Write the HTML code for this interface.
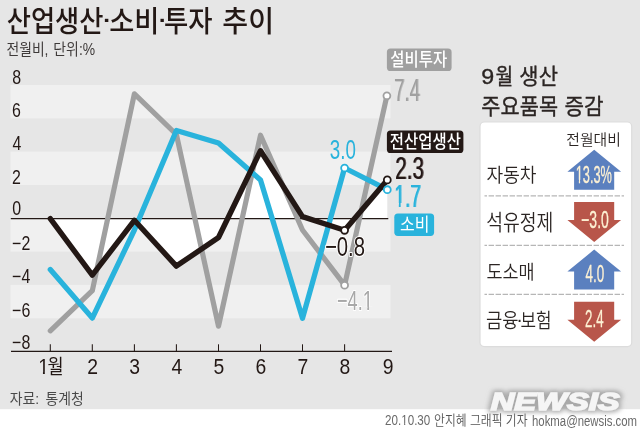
<!DOCTYPE html>
<html lang="ko"><head><meta charset="utf-8"><title>산업생산·소비·투자 추이</title>
<style>
html,body{margin:0;padding:0;background:#fff;}
svg{display:block;font-family:"Liberation Sans", "Noto Sans CJK KR", sans-serif;}
text{white-space:pre;}
</style></head><body>
<svg width="640" height="431" viewBox="0 0 640 431">
<defs><filter id="hb0" x="-5%" y="-10%" width="110%" height="120%"><feOffset dx="1.673" dy="0"/><feComponentTransfer result="o"><feFuncA type="linear" slope="0.6"/></feComponentTransfer><feMerge><feMergeNode in="o"/><feMergeNode in="SourceGraphic"/></feMerge></filter><filter id="hb1" x="-5%" y="-10%" width="110%" height="120%"><feOffset dx="1.524" dy="0"/><feComponentTransfer result="o"><feFuncA type="linear" slope="0.7"/></feComponentTransfer><feMerge><feMergeNode in="o"/><feMergeNode in="SourceGraphic"/></feMerge></filter><filter id="hb2" x="-5%" y="-10%" width="110%" height="120%"><feOffset dx="5.21" dy="0"/><feComponentTransfer result="o"><feFuncA type="linear" slope="0.8"/></feComponentTransfer><feMerge><feMergeNode in="o"/><feMergeNode in="SourceGraphic"/></feMerge></filter><clipPath id="nf0"><path d="M-50,-150H3000V80H-50ZM-2.00,-12H24.75V12H-2.00Z M34.38,-12H57.00V12H34.38Z" clip-rule="evenodd"/></clipPath><clipPath id="nf1"><path d="M-50,-150H3000V80H-50ZM137.01,-12H163.76V12H137.01Z M173.39,-12H196.01V12H173.39Z" clip-rule="evenodd"/></clipPath><clipPath id="nf2"><path d="M-50,-150H3000V80H-50ZM-2.00,-12H24.75V12H-2.00Z M34.38,-12H57.00V12H34.38Z" clip-rule="evenodd"/></clipPath><clipPath id="nf3"><path d="M-50,-150H3000V80H-50ZM139.80,-12H166.55V12H139.80Z M176.18,-12H198.80V12H176.18Z" clip-rule="evenodd"/></clipPath><clipPath id="nf4"><path d="M-50,-150H3000V80H-50ZM-2.00,-12H24.75V12H-2.00Z M34.38,-12H57.00V12H34.38Z" clip-rule="evenodd"/></clipPath></defs>
<rect x="0" y="0" width="640" height="409.2" fill="#e6e6e6"/>
<rect x="10.5" y="84.98" width="380.0" height="33.33" fill="#f0f0f0"/>
<rect x="10.5" y="151.64" width="380.0" height="33.33" fill="#f0f0f0"/>
<rect x="10.5" y="218.30" width="380.0" height="33.33" fill="#f0f0f0"/>
<rect x="10.5" y="284.96" width="380.0" height="33.33" fill="#f0f0f0"/>
<polygon points="50.3,218.6 92.3,275.2 134.4,220.3 176.4,266.1 218.5,237.5 260.5,150.7 302.5,216.6 344.6,230.3 387.3,179.9 387.3,218.60000000000002 50.3,218.60000000000002" fill="#fff" fill-rule="nonzero"/>
<line x1="10.8" y1="218.60000000000002" x2="388.3" y2="218.60000000000002" stroke="#231815" stroke-width="1.1"/>
<line x1="11" y1="351.3" x2="392" y2="351.3" stroke="#231815" stroke-width="1.15"/>
<line x1="50.3" y1="344.3" x2="50.3" y2="351.3" stroke="#231815" stroke-width="1.05"/>
<line x1="92.3" y1="344.3" x2="92.3" y2="351.3" stroke="#231815" stroke-width="1.05"/>
<line x1="134.4" y1="344.3" x2="134.4" y2="351.3" stroke="#231815" stroke-width="1.05"/>
<line x1="176.4" y1="344.3" x2="176.4" y2="351.3" stroke="#231815" stroke-width="1.05"/>
<line x1="218.5" y1="344.3" x2="218.5" y2="351.3" stroke="#231815" stroke-width="1.05"/>
<line x1="260.5" y1="344.3" x2="260.5" y2="351.3" stroke="#231815" stroke-width="1.05"/>
<line x1="302.5" y1="344.3" x2="302.5" y2="351.3" stroke="#231815" stroke-width="1.05"/>
<line x1="344.6" y1="344.3" x2="344.6" y2="351.3" stroke="#231815" stroke-width="1.05"/>
<polyline points="50.3,330.8 92.3,290.7 134.4,93.8 176.4,134.5 218.5,326.1 260.5,135.2 302.5,230.0 344.6,285.2 386.9,95.8" fill="none" stroke="#a0a0a0" stroke-width="5.2" stroke-linejoin="round" stroke-linecap="round"/>
<polyline points="50.3,269.6 92.3,318.1 134.4,230.0 176.4,130.5 218.5,143.0 260.5,180.0 302.5,318.2 344.6,168.0 387.3,189.7" fill="none" stroke="#29b3dc" stroke-width="5.3" stroke-linejoin="round" stroke-linecap="round"/>
<polyline points="50.3,218.6 92.3,275.2 134.4,220.3 176.4,266.1 218.5,237.5 260.5,150.7 302.5,216.6 344.6,230.3 387.3,179.9" fill="none" stroke="#231815" stroke-width="5.4" stroke-linejoin="round" stroke-linecap="round"/>
<circle cx="344.6" cy="285.2" r="3.45" fill="#fff" stroke="#a0a0a0" stroke-width="1.8"/>
<circle cx="386.9" cy="95.8" r="3.45" fill="#fff" stroke="#a0a0a0" stroke-width="1.8"/>
<circle cx="344.6" cy="168.0" r="3.45" fill="#fff" stroke="#29b3dc" stroke-width="1.8"/>
<circle cx="387.3" cy="189.7" r="3.45" fill="#fff" stroke="#29b3dc" stroke-width="1.8"/>
<circle cx="344.6" cy="230.3" r="3.45" fill="#fff" stroke="#231815" stroke-width="1.8"/>
<circle cx="387.3" cy="179.9" r="3.45" fill="#fff" stroke="#231815" stroke-width="1.8"/>
<text transform="translate(6.65 32.18) scale(0.9040 1)" font-size="29.14" font-weight="500" font-style="normal" fill="#231815" >산업생산</text><text transform="translate(100.50 28.48) scale(1.2583 1)" font-size="29.14" font-weight="500" font-style="normal" fill="#231815" >·</text><text transform="translate(109.23 32.18) scale(0.9370 1)" font-size="29.14" font-weight="500" font-style="normal" fill="#231815" >소비</text><text transform="translate(156.13 28.48) scale(1.2202 1)" font-size="29.14" font-weight="500" font-style="normal" fill="#231815" >·</text><text transform="translate(163.88 32.18) scale(0.9054 1)" font-size="29.14" font-weight="500" font-style="normal" fill="#231815" >투자</text><text transform="translate(222.29 32.18) scale(0.9658 1)" font-size="29.14" font-weight="500" font-style="normal" fill="#231815" >추이</text>
<text transform="translate(6.47 55.43) scale(0.8684 1)" font-size="15.94" font-weight="400" font-style="normal" fill="#3e3a39" >전월비,</text><text transform="translate(53.35 55.43) scale(0.8715 1)" font-size="15.94" font-weight="400" font-style="normal" fill="#3e3a39" >단위:%</text>
<text transform="translate(12.26 83.75) scale(0.8093 1)" font-size="19.72" font-weight="400" font-style="normal" fill="#231815" >8</text>
<text transform="translate(12.10 116.95) scale(0.8093 1)" font-size="19.72" font-weight="400" font-style="normal" fill="#231815" >6</text>
<text transform="translate(12.58 150.15) scale(0.8093 1)" font-size="19.72" font-weight="400" font-style="normal" fill="#231815" >4</text>
<text transform="translate(12.10 183.65) scale(0.8093 1)" font-size="19.72" font-weight="400" font-style="normal" fill="#231815" >2</text>
<text transform="translate(12.26 215.25) scale(0.8093 1)" font-size="19.72" font-weight="400" font-style="normal" fill="#231815" >0</text>
<text transform="translate(12.10 249.95) scale(0.8093 1)" font-size="19.72" font-weight="400" font-style="normal" fill="#231815" >−2</text>
<text transform="translate(12.10 283.15) scale(0.8093 1)" font-size="19.72" font-weight="400" font-style="normal" fill="#231815" >−4</text>
<text transform="translate(12.10 316.95) scale(0.8093 1)" font-size="19.72" font-weight="400" font-style="normal" fill="#231815" >−6</text>
<text transform="translate(12.10 348.95) scale(0.8093 1)" font-size="19.72" font-weight="400" font-style="normal" fill="#231815" >−8</text>
<text transform="translate(38.17 374.30) scale(0.19362 0.21549)" font-size="100" clip-path="url(#nf0)" font-weight="400" font-style="normal" fill="#231815" >1</text>
<text transform="translate(47.52 374.20) scale(0.8766 1)" font-size="20.00" font-weight="400" font-style="normal" fill="#231815" >월</text>
<text transform="translate(87.22 374.30) scale(0.8985 1)" font-size="21.55" font-weight="400" font-style="normal" fill="#231815" >2</text>
<text transform="translate(129.36 374.30) scale(0.8985 1)" font-size="21.55" font-weight="400" font-style="normal" fill="#231815" >3</text>
<text transform="translate(171.40 374.30) scale(0.8985 1)" font-size="21.55" font-weight="400" font-style="normal" fill="#231815" >4</text>
<text transform="translate(213.44 374.30) scale(0.8985 1)" font-size="21.55" font-weight="400" font-style="normal" fill="#231815" >5</text>
<text transform="translate(255.38 374.30) scale(0.8985 1)" font-size="21.55" font-weight="400" font-style="normal" fill="#231815" >6</text>
<text transform="translate(297.42 374.30) scale(0.8985 1)" font-size="21.55" font-weight="400" font-style="normal" fill="#231815" >7</text>
<text transform="translate(339.56 374.30) scale(0.8985 1)" font-size="21.55" font-weight="400" font-style="normal" fill="#231815" >8</text>
<text transform="translate(382.68 374.30) scale(0.8985 1)" font-size="21.55" font-weight="400" font-style="normal" fill="#231815" >9</text>
<text transform="translate(9.65 403.95) scale(0.9634 1)" font-size="14.40" font-weight="400" font-style="normal" fill="#4a4a4a" >자료:</text><text transform="translate(45.51 403.95) scale(0.9629 1)" font-size="14.40" font-weight="400" font-style="normal" fill="#4a4a4a" >통계청</text>
<text transform="translate(385.12 425.35) scale(0.11605 0.14789)" font-size="100" clip-path="url(#nf1)" font-weight="400" font-style="normal" fill="#6a6a6a" >20.10.30</text>
<text transform="translate(434.07 425.19) scale(0.8534 1)" font-size="13.85" font-weight="350" font-style="normal" fill="#555" >안지혜 그래픽 기자</text>
<text transform="translate(532.00 425.65) scale(0.7455 1)" font-size="15.27" font-weight="400" font-style="normal" fill="#6a6a6a" >hokma@newsis.com</text>
<rect x="386.9" y="48.5" width="64.70" height="22.50" rx="3.6" fill="#a0a0a0"/>
<text transform="translate(390.23 66.18) scale(0.8582 1)" font-size="18.04" font-weight="500" font-style="normal" fill="#fff" >설비투자</text>
<text transform="translate(393.97 100.90) scale(0.5978 1)" font-size="31.16" font-weight="400" font-style="normal" fill="#a0a0a0" filter="url(#hb0)">7.4</text>
<rect x="386.9" y="130.4" width="76.50" height="22.70" rx="3.6" fill="#231815"/>
<text transform="translate(389.83 148.38) scale(0.8600 1)" font-size="17.96" font-weight="500" font-style="normal" fill="#fff" >전산업생산</text>
<text transform="translate(394.97 178.69) scale(0.6564 1)" font-size="31.41" font-weight="400" font-style="normal" fill="#231815" filter="url(#hb1)">2.3</text>
<text transform="translate(394.08 206.80) scale(0.19194 0.31449)" font-size="100" clip-path="url(#nf2)" font-weight="400" font-style="normal" fill="#29b3dc" filter="url(#hb2)">1.7</text>
<rect x="394.3" y="213.6" width="39.80" height="22.30" rx="3.6" fill="#29b3dc"/>
<text transform="translate(400.10 231.48) scale(0.9057 1)" font-size="17.69" font-weight="400" font-style="normal" fill="#fff" >소비</text>
<text transform="translate(329.85 158.92) scale(0.6768 1)" font-size="27.75" font-weight="400" font-style="normal" fill="#29b3dc" >3.0</text>
<text transform="translate(324.88 256.23) scale(0.7398 1)" font-size="27.46" font-weight="400" font-style="normal" fill="#231815" stroke="#fff" stroke-width="2.2" stroke-linejoin="round" paint-order="stroke">−0.8</text>
<text transform="translate(336.99 310.00) scale(0.18187 0.27971)" font-size="100" clip-path="url(#nf3)" font-weight="400" font-style="normal" fill="#a8a8a8" stroke="#fff" stroke-width="7.865" stroke-linejoin="round" paint-order="stroke">−4.1</text>
<text transform="translate(481.34 83.68) scale(1.0800 1)" font-size="21.54" font-weight="400" font-style="normal" fill="#2b2523" stroke="#2b2523" stroke-width="0.35" stroke-linejoin="round">9</text><text transform="translate(495.44 83.68) scale(0.8924 1)" font-size="21.54" font-weight="400" font-style="normal" fill="#2b2523" stroke="#2b2523" stroke-width="0.35" stroke-linejoin="round">월</text><text transform="translate(519.35 83.68) scale(0.9737 1)" font-size="21.54" font-weight="400" font-style="normal" fill="#2b2523" stroke="#2b2523" stroke-width="0.35" stroke-linejoin="round">생산</text>
<text transform="translate(481.36 113.93) scale(0.9447 1)" font-size="22.09" font-weight="400" font-style="normal" fill="#2b2523" stroke="#2b2523" stroke-width="0.35" stroke-linejoin="round">주요품목</text><text transform="translate(564.44 113.93) scale(0.9624 1)" font-size="22.09" font-weight="400" font-style="normal" fill="#2b2523" stroke="#2b2523" stroke-width="0.35" stroke-linejoin="round">증감</text>
<rect x="479.4" y="121.5" width="152.9" height="225.7" rx="5" fill="#dcdcdc"/>
<rect x="480.6" y="122.6" width="150.5" height="223.4" rx="3.8" fill="#fff"/>
<text transform="translate(566.36 144.54) scale(0.9813 1)" font-size="15.11" font-weight="350" font-style="normal" fill="#2b2523" >전월대비</text>
<polygon points="594.2,149.8 621.1,171.8 614.2,171.8 614.2,189.8 574.1,189.8 574.1,171.8 567.4,171.8" fill="#5b80bf"/>
<polygon points="574.1,202 614.2,202 614.2,220 621.1,220 594.2,242 567.4,220 574.1,220" fill="#b8564a"/>
<polygon points="594.2,249.6 621.1,271.6 614.2,271.6 614.2,289.6 574.1,289.6 574.1,271.6 567.4,271.6" fill="#5b80bf"/>
<polygon points="574.1,301.7 614.2,301.7 614.2,319.7 621.1,319.7 594.2,341.7 567.4,319.7 574.1,319.7" fill="#b8564a"/>
<line x1="484.5" y1="195.8" x2="624" y2="195.8" stroke="#b6b6b6" stroke-width="1.2" stroke-dasharray="5.4 1.6" stroke-dashoffset="2.9"/>
<line x1="484.5" y1="245.4" x2="624" y2="245.4" stroke="#b6b6b6" stroke-width="1.2" stroke-dasharray="5.4 1.6" stroke-dashoffset="2.9"/>
<line x1="484.5" y1="294.4" x2="624" y2="294.4" stroke="#b6b6b6" stroke-width="1.2" stroke-dasharray="5.4 1.6" stroke-dashoffset="2.9"/>
<text transform="translate(486.53 182.17) scale(0.9162 1)" font-size="19.78" font-weight="350" font-style="normal" fill="#2b2523" >자동차</text>
<text transform="translate(486.20 229.89) scale(0.8566 1)" font-size="21.32" font-weight="350" font-style="normal" fill="#2b2523" >석유정제</text>
<text transform="translate(486.43 278.69) scale(0.9238 1)" font-size="18.90" font-weight="350" font-style="normal" fill="#2b2523" >도소매</text>
<text transform="translate(486.02 328.17) scale(0.8701 1)" font-size="20.33" font-weight="350" font-style="normal" fill="#2b2523" >금융</text><text transform="translate(516.20 326.27) scale(0.9838 1)" font-size="20.33" font-weight="350" font-style="normal" fill="#2b2523" >·</text><text transform="translate(520.45 328.17) scale(0.8327 1)" font-size="20.33" font-weight="350" font-style="normal" fill="#2b2523" >보험</text>
<text transform="translate(575.72 182.66) scale(0.12778 0.23662)" font-size="100" clip-path="url(#nf4)" font-weight="400" font-style="normal" fill="#fdf1d4" stroke="#fdf1d4" stroke-width="1.268" stroke-linejoin="round">13.3%</text>
<text transform="translate(581.20 227.76) scale(0.5843 1)" font-size="23.94" font-weight="400" font-style="normal" fill="#fdf1d4" stroke="#fdf1d4" stroke-width="0.3" stroke-linejoin="round">−3.0</text>
<text transform="translate(585.43 281.56) scale(0.5621 1)" font-size="23.94" font-weight="400" font-style="normal" fill="#fdf1d4" stroke="#fdf1d4" stroke-width="0.3" stroke-linejoin="round">4.0</text>
<text transform="translate(585.03 326.80) scale(0.5501 1)" font-size="24.29" font-weight="400" font-style="normal" fill="#fdf1d4" stroke="#fdf1d4" stroke-width="0.3" stroke-linejoin="round">2.4</text>
<defs><filter id="gl" x="-10%" y="-60%" width="120%" height="220%"><feMorphology in="SourceAlpha" operator="dilate" radius="1.2 1.6" result="d"/><feGaussianBlur in="d" stdDeviation="2" result="b"/><feFlood flood-color="#8c8c8c" flood-opacity="0.68"/><feComposite in2="b" operator="in" result="sh"/><feMerge><feMergeNode in="sh"/><feMergeNode in="SourceGraphic"/></feMerge></filter></defs>
<text transform="translate(490.65 409.96) scale(1.3662 1)" font-size="23.94" font-weight="700" font-style="italic" fill="#f5f5f5" stroke="#f5f5f5" stroke-width="1.5" stroke-linejoin="miter" filter="url(#gl)">NEWSIS</text>
</svg>
</body></html>
